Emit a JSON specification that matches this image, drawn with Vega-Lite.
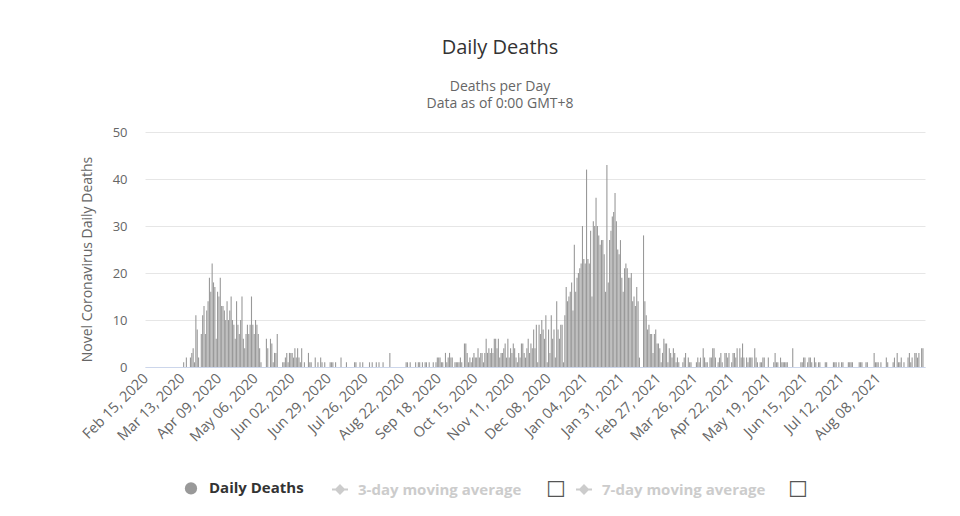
{
"$schema": "https://vega.github.io/schema/vega-lite/v6.json",
"width": 780, "height": 235,
"autosize": {"type": "none"},
"padding": {"left": 145, "top": 132, "right": 35, "bottom": 149},
"background": "#ffffff",
"config": {"view": {"stroke": null}, "font": "Open Sans"},
"title": {"text": "Daily Deaths", "subtitle": ["Deaths per Day", "Data as of 0:00 GMT+8"], "anchor": "middle", "frame": "group", "dx": -35, "offset": 15, "font": "Open Sans", "fontSize": 20, "fontWeight": "normal", "color": "#333333", "subtitleFont": "Open Sans", "subtitleFontSize": 14, "subtitleColor": "#666666", "subtitlePadding": 22, "subtitleLineHeight": 17},
"data": {"values": [
{"d":"2020-03-14","v":1},{"d":"2020-03-16","v":2},{"d":"2020-03-19","v":2},{"d":"2020-03-20","v":3},{"d":"2020-03-21","v":4},{"d":"2020-03-22","v":1},{"d":"2020-03-23","v":11},{"d":"2020-03-24","v":8},{"d":"2020-03-25","v":2},{"d":"2020-03-27","v":7},{"d":"2020-03-28","v":11},{"d":"2020-03-29","v":13},{"d":"2020-03-30","v":7},{"d":"2020-03-31","v":12},
{"d":"2020-04-01","v":14},{"d":"2020-04-02","v":19},{"d":"2020-04-03","v":16},{"d":"2020-04-04","v":22},{"d":"2020-04-05","v":18},{"d":"2020-04-06","v":17},{"d":"2020-04-07","v":6},{"d":"2020-04-08","v":16},{"d":"2020-04-09","v":15},{"d":"2020-04-10","v":19},{"d":"2020-04-11","v":13},{"d":"2020-04-12","v":13},{"d":"2020-04-13","v":12},{"d":"2020-04-14","v":10},{"d":"2020-04-15","v":14},{"d":"2020-04-16","v":10},{"d":"2020-04-17","v":12},{"d":"2020-04-18","v":15},{"d":"2020-04-19","v":10},{"d":"2020-04-20","v":9},{"d":"2020-04-21","v":6},{"d":"2020-04-22","v":14},{"d":"2020-04-23","v":9},{"d":"2020-04-24","v":7},{"d":"2020-04-25","v":10},{"d":"2020-04-26","v":15},{"d":"2020-04-27","v":6},{"d":"2020-04-28","v":4},{"d":"2020-04-29","v":7},{"d":"2020-04-30","v":9},
{"d":"2020-05-01","v":7},{"d":"2020-05-02","v":9},{"d":"2020-05-03","v":15},{"d":"2020-05-04","v":9},{"d":"2020-05-05","v":7},{"d":"2020-05-06","v":10},{"d":"2020-05-07","v":9},{"d":"2020-05-08","v":7},{"d":"2020-05-09","v":4},{"d":"2020-05-10","v":1},{"d":"2020-05-14","v":6},{"d":"2020-05-15","v":4},{"d":"2020-05-17","v":6},{"d":"2020-05-18","v":5},{"d":"2020-05-19","v":1},{"d":"2020-05-20","v":3},{"d":"2020-05-21","v":3},{"d":"2020-05-22","v":7},{"d":"2020-05-26","v":1},{"d":"2020-05-27","v":1},{"d":"2020-05-28","v":2},{"d":"2020-05-29","v":3},{"d":"2020-05-30","v":1},{"d":"2020-05-31","v":3},
{"d":"2020-06-01","v":3},{"d":"2020-06-02","v":3},{"d":"2020-06-03","v":2},{"d":"2020-06-04","v":4},{"d":"2020-06-05","v":2},{"d":"2020-06-06","v":4},{"d":"2020-06-07","v":2},{"d":"2020-06-08","v":1},{"d":"2020-06-09","v":4},{"d":"2020-06-11","v":1},{"d":"2020-06-14","v":3},{"d":"2020-06-15","v":1},{"d":"2020-06-16","v":1},{"d":"2020-06-19","v":2},{"d":"2020-06-21","v":1},{"d":"2020-06-23","v":2},{"d":"2020-06-24","v":1},{"d":"2020-06-26","v":1},{"d":"2020-06-30","v":1},
{"d":"2020-07-01","v":1},{"d":"2020-07-02","v":1},{"d":"2020-07-04","v":1},{"d":"2020-07-08","v":2},{"d":"2020-07-12","v":1},{"d":"2020-07-18","v":1},{"d":"2020-07-19","v":1},{"d":"2020-07-22","v":1},{"d":"2020-07-24","v":1},{"d":"2020-07-29","v":1},{"d":"2020-07-31","v":1},
{"d":"2020-08-03","v":1},{"d":"2020-08-05","v":1},{"d":"2020-08-08","v":1},{"d":"2020-08-13","v":3},{"d":"2020-08-25","v":1},{"d":"2020-08-26","v":1},{"d":"2020-08-28","v":1},
{"d":"2020-09-01","v":1},{"d":"2020-09-03","v":1},{"d":"2020-09-04","v":1},{"d":"2020-09-06","v":1},{"d":"2020-09-08","v":1},{"d":"2020-09-09","v":1},{"d":"2020-09-11","v":1},{"d":"2020-09-14","v":1},{"d":"2020-09-16","v":1},{"d":"2020-09-17","v":2},{"d":"2020-09-18","v":2},{"d":"2020-09-19","v":2},{"d":"2020-09-20","v":1},{"d":"2020-09-21","v":1},{"d":"2020-09-23","v":3},{"d":"2020-09-24","v":1},{"d":"2020-09-25","v":2},{"d":"2020-09-26","v":3},{"d":"2020-09-27","v":2},{"d":"2020-09-28","v":2},{"d":"2020-09-30","v":1},
{"d":"2020-10-01","v":1},{"d":"2020-10-02","v":1},{"d":"2020-10-03","v":1},{"d":"2020-10-04","v":2},{"d":"2020-10-05","v":1},{"d":"2020-10-07","v":5},{"d":"2020-10-08","v":5},{"d":"2020-10-09","v":3},{"d":"2020-10-10","v":1},{"d":"2020-10-11","v":2},{"d":"2020-10-12","v":1},{"d":"2020-10-13","v":2},{"d":"2020-10-14","v":3},{"d":"2020-10-15","v":2},{"d":"2020-10-16","v":2},{"d":"2020-10-17","v":4},{"d":"2020-10-18","v":2},{"d":"2020-10-19","v":3},{"d":"2020-10-20","v":3},{"d":"2020-10-21","v":1},{"d":"2020-10-22","v":3},{"d":"2020-10-23","v":6},{"d":"2020-10-24","v":3},{"d":"2020-10-25","v":4},{"d":"2020-10-26","v":3},{"d":"2020-10-27","v":4},{"d":"2020-10-28","v":3},{"d":"2020-10-29","v":6},{"d":"2020-10-30","v":6},{"d":"2020-10-31","v":4},
{"d":"2020-11-01","v":6},{"d":"2020-11-02","v":2},{"d":"2020-11-03","v":3},{"d":"2020-11-04","v":3},{"d":"2020-11-05","v":4},{"d":"2020-11-06","v":5},{"d":"2020-11-07","v":2},{"d":"2020-11-08","v":6},{"d":"2020-11-09","v":2},{"d":"2020-11-10","v":4},{"d":"2020-11-11","v":3},{"d":"2020-11-12","v":5},{"d":"2020-11-13","v":4},{"d":"2020-11-14","v":2},{"d":"2020-11-15","v":1},{"d":"2020-11-16","v":3},{"d":"2020-11-17","v":2},{"d":"2020-11-18","v":5},{"d":"2020-11-19","v":5},{"d":"2020-11-20","v":3},{"d":"2020-11-21","v":2},{"d":"2020-11-22","v":4},{"d":"2020-11-23","v":6},{"d":"2020-11-24","v":3},{"d":"2020-11-25","v":5},{"d":"2020-11-26","v":4},{"d":"2020-11-27","v":8},{"d":"2020-11-28","v":4},{"d":"2020-11-29","v":9},{"d":"2020-11-30","v":1},
{"d":"2020-12-01","v":9},{"d":"2020-12-02","v":7},{"d":"2020-12-03","v":10},{"d":"2020-12-04","v":8},{"d":"2020-12-05","v":6},{"d":"2020-12-06","v":11},{"d":"2020-12-07","v":1},{"d":"2020-12-08","v":8},{"d":"2020-12-09","v":3},{"d":"2020-12-10","v":11},{"d":"2020-12-11","v":6},{"d":"2020-12-12","v":8},{"d":"2020-12-13","v":2},{"d":"2020-12-14","v":14},{"d":"2020-12-15","v":8},{"d":"2020-12-16","v":6},{"d":"2020-12-17","v":9},{"d":"2020-12-18","v":9},{"d":"2020-12-19","v":1},{"d":"2020-12-20","v":11},{"d":"2020-12-21","v":17},{"d":"2020-12-22","v":14},{"d":"2020-12-23","v":15},{"d":"2020-12-24","v":16},{"d":"2020-12-25","v":18},{"d":"2020-12-26","v":12},{"d":"2020-12-27","v":26},{"d":"2020-12-28","v":16},{"d":"2020-12-29","v":19},{"d":"2020-12-30","v":20},{"d":"2020-12-31","v":21},
{"d":"2021-01-01","v":22},{"d":"2021-01-02","v":30},{"d":"2021-01-03","v":23},{"d":"2021-01-04","v":22},{"d":"2021-01-05","v":42},{"d":"2021-01-06","v":23},{"d":"2021-01-07","v":22},{"d":"2021-01-08","v":29},{"d":"2021-01-09","v":15},{"d":"2021-01-10","v":31},{"d":"2021-01-11","v":30},{"d":"2021-01-12","v":36},{"d":"2021-01-13","v":30},{"d":"2021-01-14","v":28},{"d":"2021-01-15","v":26},{"d":"2021-01-16","v":27},{"d":"2021-01-17","v":27},{"d":"2021-01-18","v":24},{"d":"2021-01-19","v":16},{"d":"2021-01-20","v":43},{"d":"2021-01-21","v":18},{"d":"2021-01-22","v":27},{"d":"2021-01-23","v":29},{"d":"2021-01-24","v":32},{"d":"2021-01-25","v":33},{"d":"2021-01-26","v":37},{"d":"2021-01-27","v":31},{"d":"2021-01-28","v":25},{"d":"2021-01-29","v":24},{"d":"2021-01-30","v":27},{"d":"2021-01-31","v":19},
{"d":"2021-02-01","v":16},{"d":"2021-02-02","v":21},{"d":"2021-02-03","v":22},{"d":"2021-02-04","v":21},{"d":"2021-02-05","v":19},{"d":"2021-02-06","v":19},{"d":"2021-02-07","v":20},{"d":"2021-02-08","v":14},{"d":"2021-02-09","v":15},{"d":"2021-02-10","v":13},{"d":"2021-02-11","v":17},{"d":"2021-02-12","v":14},{"d":"2021-02-13","v":2},{"d":"2021-02-16","v":28},{"d":"2021-02-17","v":14},{"d":"2021-02-18","v":11},{"d":"2021-02-19","v":8},{"d":"2021-02-20","v":9},{"d":"2021-02-21","v":7},{"d":"2021-02-22","v":7},{"d":"2021-02-23","v":3},{"d":"2021-02-24","v":7},{"d":"2021-02-25","v":8},{"d":"2021-02-26","v":5},{"d":"2021-02-27","v":5},{"d":"2021-02-28","v":4},
{"d":"2021-03-01","v":1},{"d":"2021-03-02","v":3},{"d":"2021-03-03","v":6},{"d":"2021-03-04","v":5},{"d":"2021-03-05","v":5},{"d":"2021-03-06","v":1},{"d":"2021-03-07","v":4},{"d":"2021-03-08","v":3},{"d":"2021-03-09","v":2},{"d":"2021-03-10","v":4},{"d":"2021-03-11","v":3},{"d":"2021-03-12","v":1},{"d":"2021-03-13","v":2},{"d":"2021-03-14","v":1},{"d":"2021-03-17","v":1},{"d":"2021-03-18","v":2},{"d":"2021-03-19","v":3},{"d":"2021-03-21","v":2},{"d":"2021-03-22","v":1},{"d":"2021-03-23","v":1},{"d":"2021-03-27","v":1},{"d":"2021-03-28","v":2},{"d":"2021-03-29","v":1},{"d":"2021-03-30","v":2},
{"d":"2021-04-01","v":4},{"d":"2021-04-02","v":2},{"d":"2021-04-03","v":1},{"d":"2021-04-04","v":1},{"d":"2021-04-06","v":2},{"d":"2021-04-07","v":2},{"d":"2021-04-08","v":4},{"d":"2021-04-09","v":4},{"d":"2021-04-10","v":2},{"d":"2021-04-12","v":1},{"d":"2021-04-13","v":2},{"d":"2021-04-14","v":3},{"d":"2021-04-15","v":1},{"d":"2021-04-17","v":3},{"d":"2021-04-18","v":3},{"d":"2021-04-19","v":2},{"d":"2021-04-20","v":3},{"d":"2021-04-22","v":1},{"d":"2021-04-23","v":3},{"d":"2021-04-24","v":3},{"d":"2021-04-25","v":2},{"d":"2021-04-26","v":4},{"d":"2021-04-28","v":4},{"d":"2021-04-29","v":2},{"d":"2021-04-30","v":5},
{"d":"2021-05-01","v":2},{"d":"2021-05-03","v":2},{"d":"2021-05-04","v":1},{"d":"2021-05-05","v":2},{"d":"2021-05-06","v":2},{"d":"2021-05-07","v":2},{"d":"2021-05-09","v":4},{"d":"2021-05-10","v":2},{"d":"2021-05-11","v":1},{"d":"2021-05-13","v":1},{"d":"2021-05-14","v":1},{"d":"2021-05-15","v":2},{"d":"2021-05-16","v":2},{"d":"2021-05-19","v":2},{"d":"2021-05-23","v":1},{"d":"2021-05-24","v":3},{"d":"2021-05-25","v":1},{"d":"2021-05-26","v":1},{"d":"2021-05-28","v":2},{"d":"2021-05-29","v":1},{"d":"2021-05-30","v":1},{"d":"2021-05-31","v":1},
{"d":"2021-06-01","v":1},{"d":"2021-06-02","v":1},{"d":"2021-06-06","v":4},{"d":"2021-06-12","v":1},{"d":"2021-06-13","v":1},{"d":"2021-06-14","v":2},{"d":"2021-06-15","v":2},{"d":"2021-06-17","v":1},{"d":"2021-06-18","v":2},{"d":"2021-06-19","v":2},{"d":"2021-06-20","v":1},{"d":"2021-06-22","v":2},{"d":"2021-06-23","v":1},{"d":"2021-06-25","v":1},{"d":"2021-06-26","v":1},{"d":"2021-06-30","v":1},
{"d":"2021-07-01","v":1},{"d":"2021-07-06","v":1},{"d":"2021-07-07","v":1},{"d":"2021-07-08","v":1},{"d":"2021-07-10","v":1},{"d":"2021-07-12","v":1},{"d":"2021-07-13","v":1},{"d":"2021-07-17","v":1},{"d":"2021-07-18","v":1},{"d":"2021-07-19","v":1},{"d":"2021-07-20","v":1},{"d":"2021-07-25","v":1},{"d":"2021-07-26","v":1},{"d":"2021-07-27","v":1},{"d":"2021-07-30","v":1},{"d":"2021-07-31","v":1},
{"d":"2021-08-05","v":3},{"d":"2021-08-06","v":1},{"d":"2021-08-07","v":1},{"d":"2021-08-08","v":1},{"d":"2021-08-10","v":1},{"d":"2021-08-14","v":2},{"d":"2021-08-15","v":1},{"d":"2021-08-19","v":1},{"d":"2021-08-20","v":2},{"d":"2021-08-22","v":3},{"d":"2021-08-23","v":1},{"d":"2021-08-24","v":1},{"d":"2021-08-25","v":2},{"d":"2021-08-27","v":1},{"d":"2021-08-30","v":2},{"d":"2021-08-31","v":3},
{"d":"2021-09-01","v":1},{"d":"2021-09-02","v":2},{"d":"2021-09-04","v":3},{"d":"2021-09-05","v":3},{"d":"2021-09-06","v":2},{"d":"2021-09-07","v":3},{"d":"2021-09-09","v":4},{"d":"2021-09-10","v":4}
]},
"mark": {"type": "bar", "width": 1.1},
"encoding": {
"x": {"field": "d", "type": "temporal", "timeUnit": "utcyearmonthdate", "bandPosition": 0.5,
 "scale": {"domain": [{"year": 2020, "month": "feb", "date": 15, "utc": true}, {"year": 2021, "month": "sep", "date": 12, "utc": true}]},
 "axis": {"title": null, "values": [
  {"year": 2020, "month": "feb", "date": 15, "hours": 12, "utc": true},
  {"year": 2020, "month": "mar", "date": 13, "hours": 12, "utc": true},
  {"year": 2020, "month": "apr", "date": 9, "hours": 12, "utc": true},
  {"year": 2020, "month": "may", "date": 6, "hours": 12, "utc": true},
  {"year": 2020, "month": "jun", "date": 2, "hours": 12, "utc": true},
  {"year": 2020, "month": "jun", "date": 29, "hours": 12, "utc": true},
  {"year": 2020, "month": "jul", "date": 26, "hours": 12, "utc": true},
  {"year": 2020, "month": "aug", "date": 22, "hours": 12, "utc": true},
  {"year": 2020, "month": "sep", "date": 18, "hours": 12, "utc": true},
  {"year": 2020, "month": "oct", "date": 15, "hours": 12, "utc": true},
  {"year": 2020, "month": "nov", "date": 11, "hours": 12, "utc": true},
  {"year": 2020, "month": "dec", "date": 8, "hours": 12, "utc": true},
  {"year": 2021, "month": "jan", "date": 4, "hours": 12, "utc": true},
  {"year": 2021, "month": "jan", "date": 31, "hours": 12, "utc": true},
  {"year": 2021, "month": "feb", "date": 27, "hours": 12, "utc": true},
  {"year": 2021, "month": "mar", "date": 26, "hours": 12, "utc": true},
  {"year": 2021, "month": "apr", "date": 22, "hours": 12, "utc": true},
  {"year": 2021, "month": "may", "date": 19, "hours": 12, "utc": true},
  {"year": 2021, "month": "jun", "date": 15, "hours": 12, "utc": true},
  {"year": 2021, "month": "jul", "date": 12, "hours": 12, "utc": true},
  {"year": 2021, "month": "aug", "date": 8, "hours": 12, "utc": true}],
  "labelExpr": "utcFormat(datum.value, '%b %d, %Y')",
  "labelAngle": -45, "labelAlign": "right", "labelBaseline": "middle", "labelPadding": 9,
  "labelFont": "Open Sans", "labelFontSize": 14.5, "labelColor": "#666666",
  "labelOverlap": false, "labelBound": false, "labelFlush": false,
  "ticks": false, "grid": false, "domainColor": "#ccd6eb", "domainWidth": 1}},
"y": {"field": "v", "type": "quantitative", "scale": {"domain": [0, 50], "nice": false},
 "axis": {"values": [0, 10, 20, 30, 40, 50], "grid": true, "gridColor": "#e6e6e6", "domain": false, "ticks": false,
  "labelPadding": 18, "labelFont": "Open Sans", "labelFontSize": 13, "labelColor": "#666666",
  "title": "Novel Coronavirus Daily Deaths", "titleFont": "Open Sans", "titleFontSize": 14, "titleFontWeight": "normal", "titleColor": "#666666",
  "titleAngle": -90, "titleX": -58, "titleY": 127, "titleAlign": "center", "titleBaseline": "middle"}},
"color": {"datum": "Daily Deaths",
 "scale": {"domain": ["Daily Deaths", "3-day moving average", "7-day moving average"], "range": ["#999999", "#cccccc", "#cccccc"]},
 "legend": {"title": null, "orient": "none", "legendX": 37, "legendY": 347, "direction": "horizontal",
  "symbolSize": 256, "symbolType": "circle", "labelFont": "Open Sans", "labelFontSize": 15, "labelFontWeight": "bold",
  "labelOffset": 9, "columnPadding": 24, "labelLimit": 300,
  "labelExpr": "datum.label == '3-day moving average' ? datum.label + '\u00a0\u00a0\u00a0\u00a0\u2800' : datum.label",
  "encode": {
   "symbols": {"update": {
     "shape": {"signal": "datum.value === 'Daily Deaths' ? 'circle' : 'M-1,0H1M0,-0.5L0.5,0L0,0.5L-0.5,0Z'"},
     "size": {"signal": "datum.value === 'Daily Deaths' ? 150 : 256"},
     "stroke": {"signal": "datum.value === 'Daily Deaths' ? 'transparent' : '#cccccc'"},
     "strokeWidth": {"value": 2},
     "opacity": {"value": 1}}},
   "labels": {"update": {"fill": {"signal": "datum.value === 'Daily Deaths' ? '#333333' : '#cccccc'"}}}}}},
"opacity": {"datum": "box1",
 "scale": {"domain": ["box1", "box2"], "range": [1, 1]},
 "legend": {"title": null, "orient": "none", "legendX": 379, "legendY": 347, "direction": "horizontal",
  "symbolType": "square", "symbolSize": 0, "symbolOpacity": 0,
  "labelExpr": "'\u2610'", "labelFont": "DejaVu Sans", "labelFontSize": 22, "labelColor": "#555555", "labelOffset": 0, "columnPadding": 200}}
}
}
